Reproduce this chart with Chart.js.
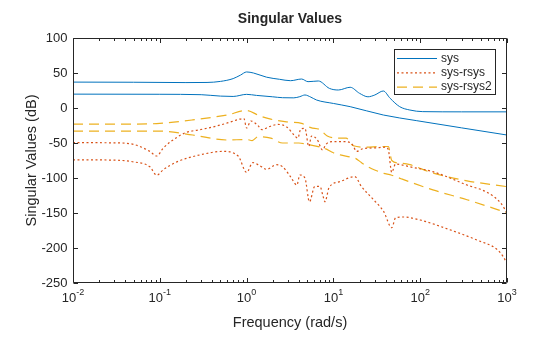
<!DOCTYPE html>
<html>
<head>
<meta charset="utf-8">
<script src="https://cdn.jsdelivr.net/npm/chart.js@4.4.1/dist/chart.umd.min.js"></script>
<style>
  html, body { margin: 0; padding: 0; background: #fff; }
</style>
</head>
<body>
<canvas id="sigma" width="560" height="337"></canvas>
<script>
// singular values: frequency (rad/s) and gain (dB)
const sysHiW = [0.01, 0.05, 0.2, 0.35, 0.5, 0.7, 0.85, 1.0, 1.2, 1.7, 2.4, 3.2, 4.3, 5.1, 6.7, 9, 11.4, 15.6, 20, 25, 30, 37.6, 45, 58, 76, 107, 300, 1000];
const sysHiDb = [37, 36.8, 36.3, 36.5, 38, 42, 47, 51.5, 50, 44, 41, 39, 41.4, 37.6, 38.6, 28, 25.7, 29.6, 21, 16, 18.6, 24.3, 13.9, 1.9, -2.9, -5.2, -5.5, -5.5];

const sysLoW = [0.01, 0.1, 0.3, 0.5, 0.7, 1.0, 1.3, 2, 2.6, 3.5, 4.1, 4.7, 5.5, 6.4, 10, 15.6, 37.6, 90, 1000];
const sysLoDb = [19.8, 19.6, 19, 17, 16.5, 19.5, 18, 16, 14.7, 14.5, 16.2, 18.6, 15.5, 11.4, 6.5, 1.9, -10, -18, -38.6];

const rsysHiW = [0.01, 0.03, 0.05, 0.077, 0.092, 0.11, 0.157, 0.2, 0.29, 0.41, 0.58, 0.83, 0.93, 1.0, 1.12, 1.35, 1.5, 1.8, 2.3, 2.9, 3.6, 3.9, 4.2, 4.7, 5.2, 5.6, 6.5, 7.5, 8.2, 10, 14, 16.5, 18.5, 22, 30, 40, 43, 47, 52, 60, 76, 140, 346, 600, 850, 1000];
const rsysHiDb = [-49.5, -49.8, -52, -62, -68.6, -57, -42, -35, -31, -27, -22, -16, -15, -28.6, -18.6, -25, -31, -27, -23.5, -27, -40, -43, -30, -29, -55, -40, -45, -60, -52, -48, -48, -52, -62, -58, -57, -56, -60, -92, -80, -81, -84, -91, -110, -121, -136, -150];

const rsysLoW = [0.01, 0.03, 0.05, 0.077, 0.092, 0.11, 0.157, 0.29, 0.53, 0.8, 1.0, 1.18, 1.4, 1.7, 2.2, 2.6, 3.2, 3.8, 4.1, 4.7, 5.3, 6.1, 7, 7.6, 8, 8.9, 12, 17.6, 21, 29, 38, 47, 52, 63, 100, 220, 450, 767, 900, 1000];
const rsysLoDb = [-74, -74.5, -77, -84, -96, -88, -77, -67, -62, -68.6, -92, -78, -82, -87.6, -81, -84, -98, -110, -95.7, -100, -134, -112, -112, -126, -134, -114, -105, -98, -112, -131, -148, -171, -157, -155.7, -160, -174, -188.6, -202, -212, -222];

const rsys2HiW = [0.01, 0.05, 0.1, 0.24, 0.59, 1.0, 1.4, 1.9, 3.0, 4.3, 5.5, 7, 8.5, 11, 14, 17, 24, 35, 43, 47, 58, 76, 140, 346, 1000];
const rsys2HiDb = [-23, -23, -22, -17, -10, -3.5, -11, -16, -20, -22, -28, -31, -40, -43, -43, -54, -56, -55, -55, -75, -78.6, -81, -93, -104, -112.4];

const rsys2LoW = [0.01, 0.1, 0.24, 0.59, 1.0, 1.16, 1.35, 1.9, 2.6, 4, 5, 8, 10, 12, 15.6, 18, 21, 25, 32, 37, 47, 60, 140, 346, 1000];
const rsys2LoDb = [-33, -33, -38.6, -45.7, -45, -46.5, -41, -43, -50, -50, -52, -58, -64, -67, -70, -72, -78, -84, -90, -93, -96, -101, -117, -131, -149.6];

const xTicks = [0.01, 0.1, 1, 10, 100, 1000];
const yTicks = [100, 50, 0, -50, -100, -150, -200, -250];
const legendLabels = ['sys', 'sys-rsys', 'sys-rsys2'];

const BLUE = '#0072BD';
const ORANGE = '#D95319';
const YELLOW = '#EDB120';
const INK = '#262626';
const FONT = '"Liberation Sans", Arial, Helvetica, sans-serif';

const toPoints = (w, db) => w.map((x, i) => ({ x: x, y: db[i] }));

const styles = [
  { color: BLUE, width: 1, dash: [] },
  { color: ORANGE, width: 1.2, dash: [2, 2.5] },
  { color: YELLOW, width: 1.2, dash: [10, 6] },
];

const line = (data, s) => ({
  data: data,
  borderColor: s.color,
  borderWidth: s.width,
  borderDash: s.dash,
  pointRadius: 0,
  fill: false,
  cubicInterpolationMode: 'monotone',
});

// box, ticks, labels and titles in MATLAB style
const axesDecor = {
  id: 'axesDecor',
  afterDraw(chart) {
    const { ctx, chartArea: a, scales } = chart;
    const x = scales.x, y = scales.y;
    const L = Math.round(a.left) + 0.5, R = Math.round(a.right) - 0.5;
    const T = Math.round(a.top) + 0.5, B = Math.round(a.bottom) - 0.5;
    ctx.save();
    ctx.strokeStyle = INK;
    ctx.lineWidth = 1;
    ctx.setLineDash([]);
    ctx.beginPath();
    ctx.rect(L, T, R - L, B - T);
    for (let e = -2; e <= 3; e++) {
      for (let m = 1; m <= 9; m++) {
        const v = m * Math.pow(10, e);
        if (v > 1000) break;
        const px = Math.round(x.getPixelForValue(v)) + 0.5;
        const len = m === 1 ? 4.5 : 2.5;
        ctx.moveTo(px, B); ctx.lineTo(px, B - len);
        ctx.moveTo(px, T); ctx.lineTo(px, T + len);
      }
    }
    yTicks.forEach((v) => {
      const py = Math.round(y.getPixelForValue(v)) + 0.5;
      ctx.moveTo(L, py); ctx.lineTo(L + 4.5, py);
      ctx.moveTo(R, py); ctx.lineTo(R - 4.5, py);
    });
    ctx.stroke();

    ctx.fillStyle = INK;
    ctx.font = '13px ' + FONT;
    ctx.textAlign = 'right';
    ctx.textBaseline = 'middle';
    yTicks.forEach((v) => {
      ctx.fillText(String(v), L - 6, y.getPixelForValue(v));
    });

    ctx.textAlign = 'left';
    ctx.textBaseline = 'alphabetic';
    xTicks.forEach((v) => {
      const exp = String(Math.round(Math.log10(v)));
      ctx.font = '13px ' + FONT;
      const wb = ctx.measureText('10').width;
      ctx.font = '9px ' + FONT;
      const we = ctx.measureText(exp).width;
      const left = x.getPixelForValue(v) - (wb + we) / 2;
      ctx.font = '13px ' + FONT;
      ctx.fillText('10', left, 302);
      ctx.font = '9px ' + FONT;
      ctx.fillText(exp, left + wb, 295);
    });

    ctx.textAlign = 'center';
    ctx.font = '14.5px ' + FONT;
    ctx.fillText('Frequency (rad/s)', (a.left + a.right) / 2, 327);
    ctx.save();
    ctx.translate(36, (a.top + a.bottom) / 2);
    ctx.rotate(-Math.PI / 2);
    ctx.fillText('Singular Values (dB)', 0, 0);
    ctx.restore();

    ctx.font = 'bold 14px ' + FONT;
    ctx.fillText('Singular Values', (a.left + a.right) / 2, 23);
    ctx.restore();
  },
};

const legendBox = {
  id: 'legendBox',
  afterDraw(chart) {
    const { ctx } = chart;
    ctx.save();
    ctx.fillStyle = '#fff';
    ctx.fillRect(394.5, 49.5, 101, 45);
    ctx.strokeStyle = INK;
    ctx.lineWidth = 1;
    ctx.strokeRect(394.5, 49.5, 101, 45);
    ctx.font = '12px ' + FONT;
    ctx.textAlign = 'left';
    ctx.textBaseline = 'middle';
    legendLabels.forEach((label, i) => {
      const s = styles[i];
      const ly = 58.5 + i * 14.3;
      ctx.strokeStyle = s.color;
      ctx.lineWidth = s.width;
      ctx.setLineDash(s.dash);
      ctx.beginPath();
      ctx.moveTo(397, ly);
      ctx.lineTo(437, ly);
      ctx.stroke();
      ctx.fillStyle = INK;
      ctx.fillText(label, 441, ly);
    });
    ctx.restore();
  },
};

const ctx = document.getElementById('sigma').getContext('2d');
const chart = new Chart(ctx, {
  type: 'line',
  data: {
    datasets: [
      line(toPoints(sysHiW, sysHiDb), styles[0]),
      line(toPoints(sysLoW, sysLoDb), styles[0]),
      line(toPoints(rsysHiW, rsysHiDb), styles[1]),
      line(toPoints(rsysLoW, rsysLoDb), styles[1]),
      line(toPoints(rsys2HiW, rsys2HiDb), styles[2]),
      line(toPoints(rsys2LoW, rsys2LoDb), styles[2]),
    ],
  },
  options: {
    responsive: false,
    animation: false,
    layout: { padding: { left: 73, right: 53, top: 38, bottom: 54 } },
    scales: {
      x: { type: 'logarithmic', min: 0.01, max: 1000, display: false },
      y: { type: 'linear', min: -250, max: 100, display: false },
    },
    plugins: {
      legend: { display: false },
      title: { display: false },
      tooltip: { enabled: false },
    },
  },
  plugins: [axesDecor, legendBox],
});
</script>
</body>
</html>
